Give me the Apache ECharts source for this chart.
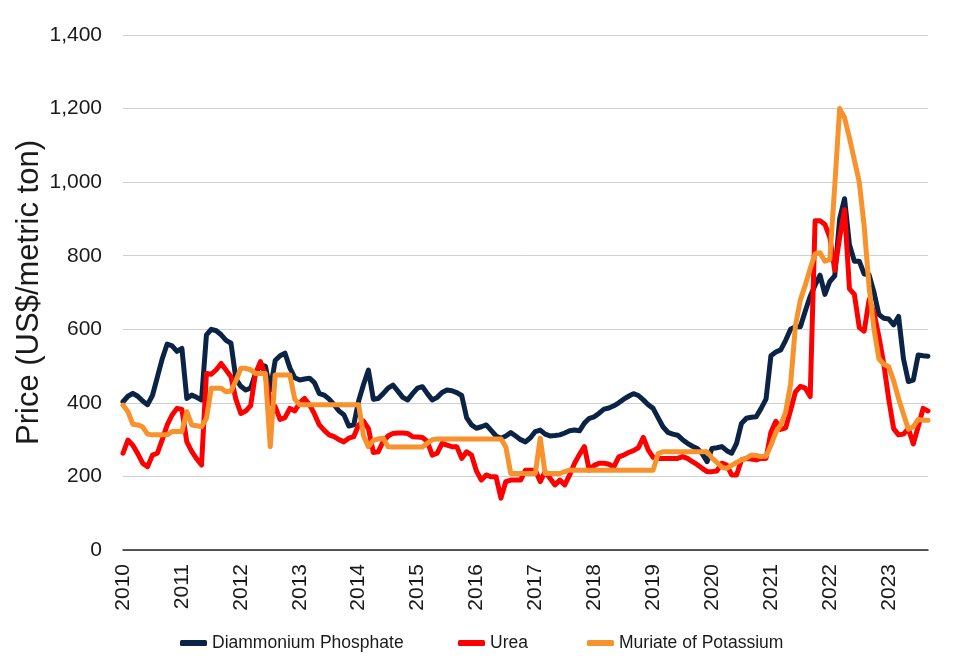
<!DOCTYPE html>
<html>
<head>
<meta charset="utf-8">
<script src="https://cdn.jsdelivr.net/npm/echarts@6/dist/echarts.min.js"></script>
<style>
html,body{margin:0;padding:0;background:#fff;}
#chart{width:975px;height:668px;}
</style>
</head>
<body>
<div id="chart"></div>
<script>
// Tick labels (years) and monthly categories Jan 2010 - Sep 2023
const years = ['2010','2011','2012','2013','2014','2015','2016','2017','2018','2019','2020','2021','2022','2023'];
const monthsInLastYear = 9;

// Diammonium Phosphate (US$/metric ton), monthly
const dap = [
403,418,426,418,405,395,420,470,520,560,555,540,
548,412,421,415,408,585,600,596,585,570,562,465,
445,435,440,480,503,500,435,515,528,535,495,468,
462,465,467,455,425,421,410,395,378,368,337,340,
405,450,489,410,412,425,440,448,432,415,408,425,
440,444,425,408,415,428,435,433,428,420,360,340,
331,335,340,325,310,304,310,319,310,300,294,305,
322,326,315,310,311,313,318,324,326,324,345,358,
362,372,383,386,392,400,410,418,425,420,408,395,
385,360,335,320,315,312,300,290,282,276,262,240,
276,278,281,270,263,290,344,358,361,362,385,410,
528,538,544,570,600,607,607,650,690,720,747,695,
730,745,900,955,830,785,785,750,748,700,640,630,
628,612,635,520,458,462,530,528,527
];

// Urea (US$/metric ton), monthly
const urea = [
263,299,285,262,236,226,258,263,300,340,367,385,
382,294,268,248,231,480,478,490,507,489,471,410,
371,378,392,480,512,476,400,390,355,360,385,378,
400,412,395,370,340,325,313,308,300,294,304,308,
340,350,330,265,267,295,310,317,318,318,317,308,
307,306,295,258,263,290,285,281,281,249,267,258,
215,190,204,199,199,141,186,190,190,190,217,217,
217,186,213,195,177,190,177,204,236,260,281,217,
230,236,236,233,226,253,258,265,270,278,306,272,
252,249,249,249,249,249,254,249,240,232,222,213,
213,215,236,231,204,204,245,249,247,245,249,249,
320,350,328,332,380,430,445,440,417,895,895,885,
850,760,850,925,710,695,605,595,680,645,580,505,
410,330,313,315,330,288,335,385,378
];

// Muriate of Potassium (US$/metric ton), monthly
const mop = [
394,376,342,340,335,315,313,313,313,313,322,322,
322,376,340,338,335,358,440,440,440,430,432,460,
494,494,490,480,480,480,281,476,476,476,476,410,
395,395,395,395,395,395,395,395,395,395,395,395,
395,310,281,298,302,304,281,280,280,280,280,280,
280,280,290,300,302,302,302,302,302,302,302,302,
302,302,302,302,302,302,280,208,208,208,208,208,
208,304,208,208,208,208,213,217,217,217,217,217,
217,217,217,217,217,217,217,217,217,217,217,217,
217,262,267,267,267,267,267,267,267,267,267,267,
250,238,225,222,230,238,245,250,258,257,254,255,
285,320,340,375,450,610,680,720,765,805,808,785,
790,990,1200,1175,1120,1060,1000,880,715,600,520,505,
498,460,412,370,328,335,355,353,353
];

const seriesNames = ['Diammonium Phosphate','Urea','Muriate of Potassium'];
const seriesColors = ['#0b2446','#ff0000','#f7922c'];

const categories = [];
years.forEach((y, i) => {
  const n = (i === years.length - 1) ? monthsInLastYear : 12;
  for (let m = 1; m <= n; m++) categories.push(y + '-' + String(m).padStart(2, '0'));
});

const FONT = '"Liberation Sans", Arial, sans-serif';
const chart = echarts.init(document.getElementById('chart'), null, {renderer: 'canvas'});

const dataSets = [dap, urea, mop];
const legendLefts = [175, 453, 582];

chart.setOption({
  animation: false,
  backgroundColor: '#ffffff',
  grid: {left: 123, right: 47, top: 35, bottom: 118, containLabel: false},
  legend: seriesNames.map((n, i) => ({
    data: [n],
    left: legendLefts[i],
    top: 629,
    icon: 'roundRect',
    itemWidth: 27,
    itemHeight: 6,
    itemGap: 0,
    textStyle: {fontFamily: FONT, fontSize: 17.5, color: '#1a1a1a', padding: [0,0,0,0]},
    selectedMode: false
  })),
  xAxis: {
    type: 'category',
    data: categories,
    boundaryGap: false,
    axisLine: {show: true, lineStyle: {color: '#262626', width: 1.5}},
    axisTick: {show: false},
    axisLabel: {
      interval: 11,
      rotate: 90,
      margin: 14,
      fontFamily: FONT,
      fontSize: 21,
      color: '#1a1a1a',
      formatter: v => v.slice(0, 4)
    },
    splitLine: {show: false}
  },
  yAxis: {
    type: 'value',
    min: 0,
    max: 1400,
    interval: 200,
    name: 'Price (US$/metric ton)',
    nameLocation: 'middle',
    nameGap: 78,
    nameMoveOverlap: false,
    nameTextStyle: {fontFamily: FONT, fontSize: 31, color: '#1a1a1a'},
    axisLine: {show: false},
    axisTick: {show: false},
    axisLabel: {
      margin: 21,
      fontFamily: FONT,
      fontSize: 21,
      color: '#1a1a1a',
      formatter: v => v.toLocaleString('en-US')
    },
    splitLine: {lineStyle: {color: '#d0d0d0', width: 1}}
  },
  series: seriesNames.map((n, i) => ({
    name: n,
    type: 'line',
    data: dataSets[i],
    symbol: 'none',
    smooth: false,
    color: seriesColors[i],
    lineStyle: {width: 5, color: seriesColors[i], cap: 'round', join: 'round'},
    z: 2 + i
  }))
});
</script>
</body>
</html>
